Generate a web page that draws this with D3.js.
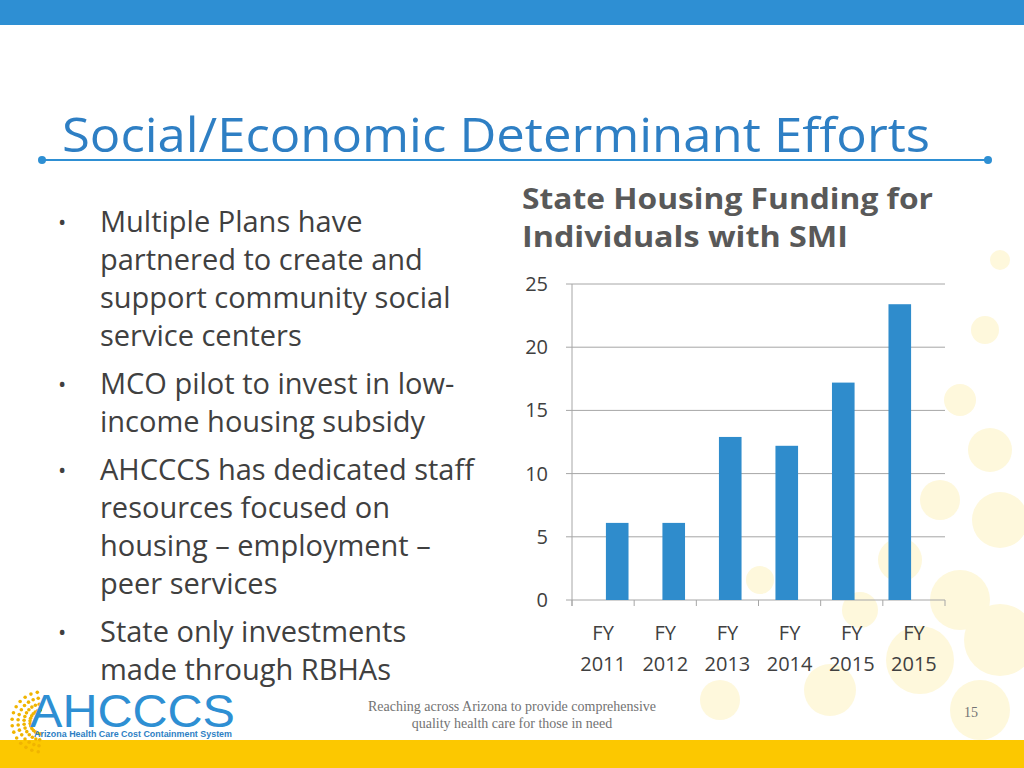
<!DOCTYPE html>
<html><head><meta charset="utf-8">
<script src="https://cdn.jsdelivr.net/npm/d3@7"></script>
<style>body{margin:0;background:#fff}svg{display:block}</style></head>
<body><svg id="c" width="1024" height="768"></svg>
<script>
const categories = ["FY 2011","FY 2012","FY 2013","FY 2014","FY 2015","FY 2015"];
const values = [6.1, 6.1, 12.9, 12.2, 17.2, 23.4];
const yTicks = [0,5,10,15,20,25];
const bullets = [
 ["Multiple Plans have","partnered to create and","support community social","service centers"],
 ["MCO pilot to invest in low-","income housing subsidy"],
 ["AHCCCS has dedicated staff","resources focused on","housing – employment –","peer services"],
 ["State only investments","made through RBHAs"]];
const svg = d3.select("#c");
const F = "'Open Sans', sans-serif";
const dots=[[1000,260,10],[985,330,14],[960,400,16],[990,450,22],[940,500,20],[1000,520,28],[900,560,22],[960,600,30],[860,610,18],[920,660,34],[1000,640,36],[760,580,14],[830,690,26],[720,700,20],[980,710,30]];
svg.selectAll("circle.bg").data(dots).join("circle").attr("cx",d=>d[0]).attr("cy",d=>d[1]).attr("r",d=>d[2]).attr("fill","#fef8dc");
svg.append("rect").attr("x",0).attr("y",0).attr("width",1024).attr("height",25).attr("fill","#2e8fd3");
svg.append("rect").attr("x",0).attr("y",740).attr("width",1024).attr("height",28).attr("fill","#fcc800");
svg.append("text").attr("x",62).attr("y",152).attr("font-family",F).attr("font-size",48).attr("fill","#2e7fc4").attr("textLength",868).attr("lengthAdjust","spacingAndGlyphs").text("Social/Economic Determinant Efforts");
svg.append("line").attr("x1",42).attr("x2",988).attr("y1",160).attr("y2",160).attr("stroke","#2e8fd3").attr("stroke-width",2);
svg.selectAll("circle.e").data([42,988]).join("circle").attr("cx",d=>d).attr("cy",160).attr("r",4).attr("fill","#2e8fd3");
let y=232;
const tg=svg.append("g").attr("font-family",F).attr("font-size",29).attr("fill","#404040");
bullets.forEach(b=>{
 tg.append("text").attr("x",58).attr("y",y-2).attr("font-size",22).text("•");
 b.forEach((l,i)=>{tg.append("text").attr("x",100).attr("y",y).text(l);y+=38;});
 y+=10;
});
const ct=svg.append("g").attr("font-family",F).attr("font-size",28).attr("font-weight","bold").attr("fill","#595959").attr("lengthAdjust","spacingAndGlyphs");
ct.append("text").attr("x",522).attr("y",209).attr("textLength",411).attr("lengthAdjust","spacingAndGlyphs").text("State Housing Funding for");
ct.append("text").attr("x",522).attr("y",247).attr("textLength",326).attr("lengthAdjust","spacingAndGlyphs").text("Individuals with SMI");
const yS=d3.scaleLinear().domain([0,25]).range([600,284]);
const g=svg.append("g");
g.selectAll("line.g").data(yTicks).join("line").attr("x1",566).attr("x2",945).attr("y1",d=>yS(d)).attr("y2",d=>yS(d)).attr("stroke","#a6a6a6").attr("stroke-width",1);
g.append("line").attr("x1",572).attr("x2",572).attr("y1",284).attr("y2",606).attr("stroke","#a6a6a6");
const xb=d3.scaleBand().domain(d3.range(categories.length)).range([572,945]);
g.selectAll("line.t").data(d3.range(categories.length+1)).join("line").attr("x1",d=>572+d*xb.step()).attr("x2",d=>572+d*xb.step()).attr("y1",600).attr("y2",606).attr("stroke","#a6a6a6");
const xi=d3.scaleBand().domain(d3.range(categories.length)).range([572,945]).padding(0.6);
g.selectAll("rect.b").data(values).join("rect").attr("x",(d,i)=>xi(i)).attr("width",xi.bandwidth()).attr("y",d=>yS(d)).attr("height",d=>600-yS(d)).attr("fill","#2f8ccc");
g.selectAll("text.y").data(yTicks).join("text").attr("x",548).attr("y",d=>yS(d)+7).attr("text-anchor","end").attr("font-family",F).attr("font-size",20).attr("fill","#404040").text(d=>d);
categories.forEach((c,i)=>{
 const p=c.split(" "), cx=xb(i)+xb.bandwidth()/2;
 p.forEach((s,k)=>g.append("text").attr("x",cx).attr("y",640+k*31).attr("text-anchor","middle").attr("font-family",F).attr("font-size",20).attr("fill","#404040").text(s));
});
const fg=svg.append("g").attr("font-family","'Liberation Serif',serif").attr("font-size",14).attr("fill","#737373").attr("text-anchor","middle");
fg.append("text").attr("x",512).attr("y",711).text("Reaching across Arizona to provide comprehensive");
fg.append("text").attr("x",512).attr("y",728).text("quality health care for those in need");
fg.append("text").attr("x",971).attr("y",717).text("15");
const sun=svg.append("g");
d3.range(14).forEach(i=>{const a=Math.PI*(0.55+i*0.07);for(let r=12;r<34;r+=6)sun.append("circle").attr("cx",42+Math.cos(a)*r).attr("cy",722-Math.sin(a)*r).attr("r",1.8).attr("fill","#f0b400");});
svg.append("text").attr("x",30).attr("y",727).attr("font-family","'Liberation Sans',sans-serif").attr("font-size",46).attr("fill","#2e8fd3").attr("textLength",205).attr("lengthAdjust","spacingAndGlyphs").text("AHCCCS");
svg.append("text").attr("x",34).attr("y",737).attr("font-family","'Liberation Sans',sans-serif").attr("font-size",8.5).attr("font-weight","bold").attr("fill","#2e7fc4").attr("textLength",198).attr("lengthAdjust","spacingAndGlyphs").text("Arizona Health Care Cost Containment System");
</script></body></html>
